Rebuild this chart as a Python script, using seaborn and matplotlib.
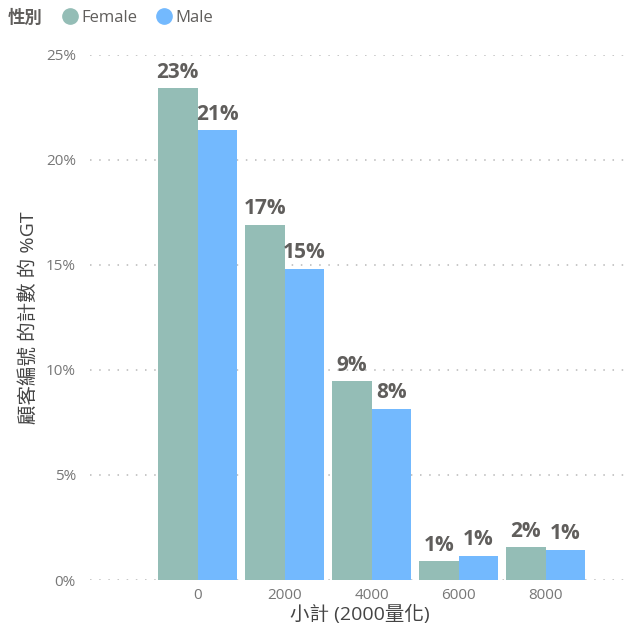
import matplotlib
matplotlib.use("Agg")
import matplotlib.pyplot as plt
import seaborn as sns
import pandas as pd
from matplotlib.lines import Line2D

categories = ["0", "2000", "4000", "6000", "8000"]
female = [23.4, 16.9, 9.45, 0.9, 1.55]
male = [21.4, 14.8, 8.15, 1.15, 1.43]
yticks = [0, 5, 10, 15, 20, 25]
series_names = ["Female", "Male"]
colors = {"Female": "#94BDB6", "Male": "#73B9FE"}

sns.set_theme(style="white")
plt.rcParams['font.family'] = ['Open Sans', 'Noto Sans CJK TC', 'DejaVu Sans']

df = pd.DataFrame({
    "cat": categories * 2,
    "val": female + male,
    "sex": ["Female"] * len(categories) + ["Male"] * len(categories),
})

fig = plt.figure(figsize=(6.41, 6.36), dpi=100)
ax = fig.add_axes([0.140, 0.088, 0.843, 0.826])

sns.barplot(data=df, x="cat", y="val", hue="sex", order=categories,
            hue_order=series_names, palette=colors, width=0.91, gap=0,
            saturation=1, ax=ax, legend=False, errorbar=None, linewidth=0)

for c in ax.containers:
    ax.bar_label(c, labels=[f"{v:.0f}%" for v in c.datavalues], padding=4,
                 fontsize=15, fontweight="bold", color="#605E5C")

ax.set_ylim(0, 25)
ax.set_xlim(-1.24, 4.97)
ax.set_yticks(yticks)
ax.set_yticklabels([f"{t}%" for t in yticks])
ax.yaxis.grid(True, linestyle=(0, (1, 5)), color="#B8B8B8", linewidth=1.1)
ax.set_axisbelow(True)
for s in ax.spines.values():
    s.set_visible(False)
ax.tick_params(axis="both", length=0, labelsize=11, labelcolor="#777777")
ax.tick_params(axis="y", pad=10)
ax.tick_params(axis="x", pad=6)
ax.set_xlabel("小計 (2000量化)", fontsize=14, color="#444444", labelpad=1)
ax.set_ylabel("顧客編號 的計數 的 %GT", fontsize=14, color="#444444", labelpad=6)

fig.text(0.012, 0.972, "性別", fontsize=12.5, fontweight="bold", color="#605E5C",
         va="center", ha="left")
handles = [Line2D([], [], marker="o", linestyle="", markersize=11,
                  markerfacecolor=colors[n], markeredgecolor=colors[n]) for n in series_names]
fig.legend(handles, series_names, loc="center left", bbox_to_anchor=(0.088, 0.972),
           ncol=2, frameon=False, fontsize=12, handletextpad=-0.1,
           columnspacing=0.8, borderaxespad=0, borderpad=0, handlelength=1.6,
           labelcolor="#605E5C")

fig.savefig("out.png", dpi=100, facecolor="white")
